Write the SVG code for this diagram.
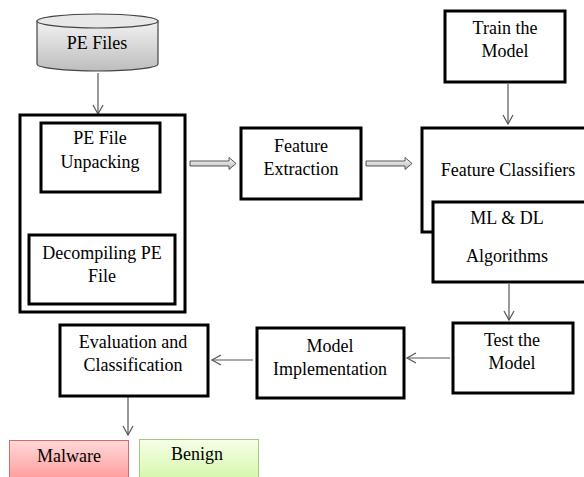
<svg xmlns="http://www.w3.org/2000/svg" width="584" height="477" viewBox="0 0 584 477" font-family="'Liberation Serif', 'Times New Roman', serif">
<style>
.box{fill:#fff;stroke:#000;stroke-width:3}
.t{font-family:"Liberation Serif","Times New Roman",serif;font-size:18px;fill:#000;text-anchor:middle}
.c{stroke:#555;stroke-width:1.2;fill:none}
.ba{fill:url(#gGray);stroke:#555;stroke-width:1}
</style>
<defs>
<marker id="v" markerWidth="12" markerHeight="12" refX="10" refY="6" orient="auto" markerUnits="userSpaceOnUse">
<path d="M1,1 L10,6 L1,11" fill="none" stroke="#555" stroke-width="1.2"/>
</marker>
<linearGradient id="gCyl" x1="0" y1="0" x2="0" y2="1">
<stop offset="0" stop-color="#f2f2f2"/><stop offset="1" stop-color="#bdbdbd"/>
</linearGradient>
<linearGradient id="gGray" x1="0" y1="0" x2="0" y2="1">
<stop offset="0" stop-color="#ffffff"/><stop offset="1" stop-color="#b5b5b5"/>
</linearGradient>
<linearGradient id="gRed" x1="0" y1="0" x2="0" y2="1">
<stop offset="0" stop-color="#ffd9d9"/><stop offset="1" stop-color="#ff9a9a"/>
</linearGradient>
<linearGradient id="gGreen" x1="0" y1="0" x2="0" y2="1">
<stop offset="0" stop-color="#f6ffe8"/><stop offset="1" stop-color="#d4f7a8"/>
</linearGradient>
</defs>

<g id="connectors">
<line class="c" x1="98" y1="73" x2="98" y2="114" marker-end="url(#v)"/>
<line class="c" x1="98" y1="194" x2="98" y2="232" marker-end="url(#v)"/>
<path class="ba" d="M190,161 L229,161 L229,157.5 L236,163.5 L229,169.5 L229,166 L190,166 Z"/>
<path class="ba" d="M366,161 L405,161 L405,157.5 L412,163.5 L405,169.5 L405,166 L366,166 Z"/>
<line class="c" x1="508" y1="84" x2="508" y2="124" marker-end="url(#v)"/>
<line class="c" x1="509" y1="284" x2="509" y2="320" marker-end="url(#v)"/>
<line class="c" x1="450" y1="358" x2="407" y2="358" marker-end="url(#v)"/>
<line class="c" x1="253" y1="360" x2="212" y2="360" marker-end="url(#v)"/>
<line class="c" x1="128" y1="397" x2="128" y2="435" marker-end="url(#v)"/>
</g>

<g id="pe-files">
<path d="M37,21 L37,64 A60.5,7 0 0 0 158,64 L158,21 Z" fill="url(#gCyl)" stroke="#444" stroke-width="1.2"/>
<ellipse cx="97.5" cy="21" rx="60.5" ry="7" fill="#e8e8e8" stroke="#444" stroke-width="1.2"/>
<text class="t" x="97" y="49">PE Files</text>
</g>

<g id="preprocess">
<rect class="box" x="20" y="115" width="165" height="197"/>
</g>

<g id="unpacking">
<rect class="box" x="41" y="123" width="119" height="69"/>
<text class="t" x="100" y="144">PE File</text>
<text class="t" x="100" y="168">Unpacking</text>
</g>

<g id="decompiling">
<rect class="box" x="29" y="235" width="146" height="69"/>
<text class="t" x="102" y="259">Decompiling PE</text>
<text class="t" x="102" y="282">File</text>
</g>

<g id="feature-extraction">
<rect class="box" x="241" y="128" width="120" height="71"/>
<text class="t" x="301" y="152">Feature</text>
<text class="t" x="301" y="175">Extraction</text>
</g>

<g id="train">
<rect class="box" x="445" y="11" width="120" height="71"/>
<text class="t" x="505" y="34">Train the</text>
<text class="t" x="505" y="57">Model</text>
</g>

<g id="feature-classifiers">
<rect class="box" x="422" y="128" width="172" height="104"/>
<text class="t" x="508" y="176">Feature Classifiers</text>
</g>

<g id="ml-dl">
<rect class="box" x="433" y="202" width="160" height="80"/>
<text class="t" x="507" y="224">ML &amp; DL</text>
<text class="t" x="507" y="262">Algorithms</text>
</g>

<g id="test">
<rect class="box" x="453" y="323" width="120" height="70"/>
<text class="t" x="512" y="346">Test the</text>
<text class="t" x="512" y="369">Model</text>
</g>

<g id="implementation">
<rect class="box" x="257" y="328" width="147" height="70"/>
<text class="t" x="330" y="352">Model</text>
<text class="t" x="330" y="375">Implementation</text>
</g>

<g id="evaluation">
<rect class="box" x="60" y="325" width="148" height="71"/>
<text class="t" x="133" y="348">Evaluation and</text>
<text class="t" x="133" y="371">Classification</text>
</g>

<g id="malware">
<rect x="9.5" y="440.5" width="119" height="40" fill="url(#gRed)" stroke="#d46a6a" stroke-width="1"/>
<text class="t" x="69" y="462">Malware</text>
</g>

<g id="benign">
<rect x="139.5" y="439.5" width="119" height="41" fill="url(#gGreen)" stroke="#a9c97a" stroke-width="1"/>
<text class="t" x="197" y="460">Benign</text>
</g>
</svg>
